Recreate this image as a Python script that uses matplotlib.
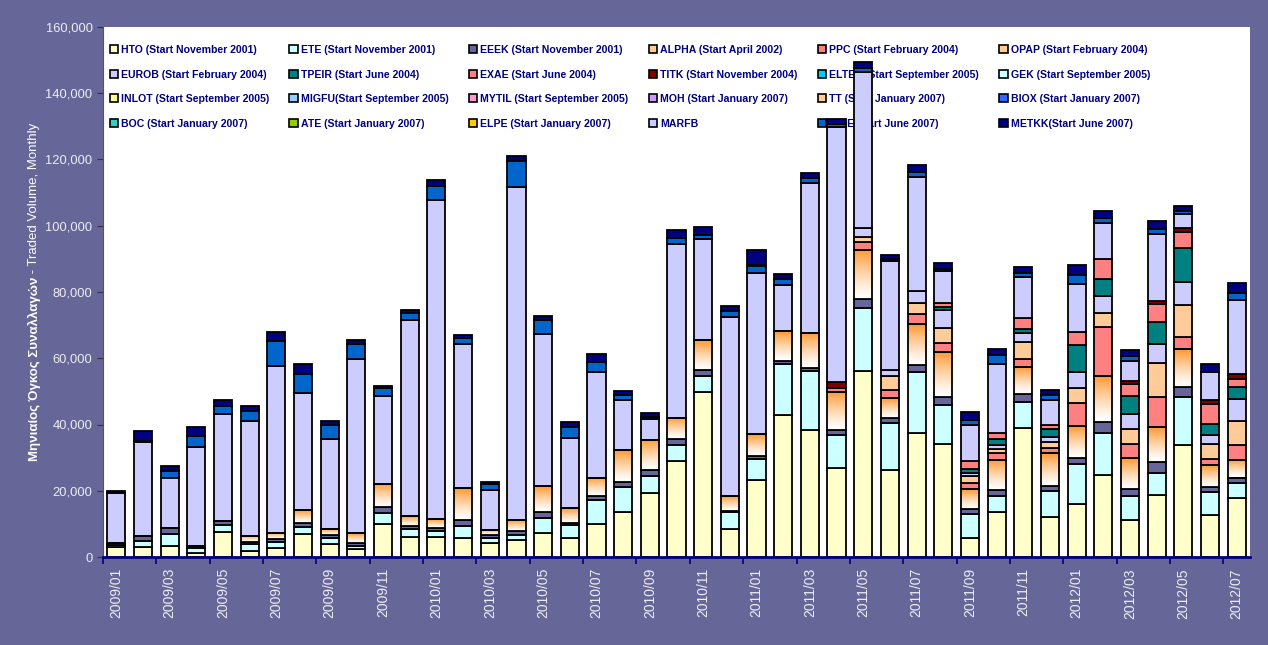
import matplotlib.pyplot as plt
import numpy as np
from matplotlib.patches import Patch
from matplotlib.colors import to_rgb
from matplotlib.ticker import FuncFormatter

# months 2009/01 .. 2012/07
months = [f"{y}/{m:02d}" for y in range(2009, 2013) for m in range(1, 13)][:43]

# monthly traded volume per product, in thousands
hto = [2.9, 3.1, 3.3, 1.3, 7.6, 1.9, 2.6, 6.8, 3.8, 2.3,
       9.9, 6.1, 6.1, 5.6, 4.3, 5.1, 7.1, 5.6, 9.9, 13.7,
       19.2, 29.1, 49.7, 8.4, 23.2, 42.9, 38.3, 27.0, 56.1, 26.3,
       37.3, 34.1, 5.8, 13.7, 38.8, 12.0, 15.9, 24.7, 11.2, 18.7,
       33.8, 12.7, 17.7]
ete = [0.7, 1.7, 3.5, 1.3, 2.2, 1.9, 1.8, 2.3, 1.8, 1.0,
       3.3, 2.5, 1.8, 3.7, 1.3, 1.5, 4.7, 4.0, 7.3, 7.3,
       5.2, 4.7, 5.0, 5.1, 6.5, 15.4, 17.8, 9.7, 19.1, 14.1,
       18.6, 11.8, 7.3, 4.7, 8.0, 7.9, 12.1, 12.8, 7.3, 6.8,
       14.6, 6.8, 4.7]
eeek = [0.5, 1.5, 2.1, 0.7, 1.0, 0.6, 0.9, 1.2, 1.0, 0.8,
        1.8, 0.8, 0.9, 1.8, 1.0, 1.3, 1.8, 0.7, 1.2, 1.7,
        1.8, 1.8, 1.9, 0.4, 0.7, 1.0, 1.0, 1.5, 2.6, 1.7,
        2.0, 2.5, 1.5, 1.8, 2.5, 1.5, 1.8, 3.3, 2.0, 3.2,
        3.0, 1.7, 1.6]
alpha = [0, 0, 0, 0, 0, 1.9, 2.0, 3.8, 1.8, 3.0,
         7.0, 2.9, 2.6, 9.6, 1.7, 3.2, 7.8, 4.5, 5.5, 9.6,
         9.1, 6.5, 8.9, 4.4, 6.6, 9.0, 10.6, 11.6, 14.8, 6.0,
         12.3, 13.6, 6.0, 9.1, 8.2, 9.9, 9.6, 13.9, 9.3, 10.4,
         11.3, 6.5, 5.2]
ppc = [0] * 27 + [1.2, 2.5, 2.3, 3.3, 2.7, 1.8, 2.0, 2.3, 1.5, 7.0,
                  14.8, 4.2, 9.3, 3.6, 2.0, 4.5]
opap = [0] * 28 + [1.5, 4.2, 3.2, 4.3, 2.2, 1.2, 5.0, 2.0, 4.7, 4.2,
                   4.5, 10.3, 9.8, 4.3, 7.5]
eurob = [0] * 28 + [2.8, 2.0, 3.6, 5.5, 0.7, 1.3, 2.7, 1.5, 4.8, 5.1,
                    4.6, 5.6, 7.0, 2.7, 6.5]
tpeir = [0] * 31 + [1.0, 1.3, 1.7, 1.3, 2.2, 8.0, 5.2, 5.5, 6.7, 10.1, 3.5, 3.5]
exae = [0] * 31 + [1.2, 2.5, 2.0, 3.3, 1.5, 4.0, 6.0, 3.7, 5.5, 5.0, 6.0, 2.5]
titk = [0] * 27 + [1.8] + [0] * 10 + [0.8, 0.8, 1.0, 1.2, 1.5]
empty = [0] * 43  # ELTEX, GEK, INLOT, MIGFU, MYTIL, MOH, TT, BIOX, BOC, ATE, ELPE
marfb = [15.1, 28.5, 15.1, 29.8, 32.5, 34.7, 50.4, 35.5, 27.2, 52.8,
         26.6, 59.2, 96.5, 43.5, 11.9, 100.6, 45.8, 21.1, 31.8, 15.1,
         6.5, 52.5, 30.4, 54.3, 48.7, 13.9, 45.3, 77.0, 47.1, 32.8,
         34.4, 9.6, 10.9, 20.7, 12.3, 7.3, 14.6, 10.8, 6.2, 20.3,
         4.3, 8.3, 22.3]
cide = [0, 0.3, 2.0, 3.4, 2.2, 3.1, 7.4, 5.5, 4.4, 4.3,
        2.3, 2.3, 4.0, 2.0, 1.8, 7.8, 4.2, 3.3, 3.2, 1.5,
        0.6, 1.7, 1.3, 1.8, 2.3, 1.7, 1.5, 0.8, 1.0, 0.6,
        1.5, 0.6, 1.5, 2.7, 1.2, 1.5, 2.5, 1.6, 1.5, 1.5,
        1.0, 0.3, 2.3]
metkk = [0.8, 3.0, 1.4, 2.8, 2.0, 1.4, 2.8, 3.2, 1.0, 1.2,
         0.8, 0.7, 1.8, 0.8, 0.7, 1.7, 1.5, 1.5, 2.3, 1.3,
         1.2, 2.3, 2.3, 1.5, 4.8, 1.5, 1.5, 1.5, 2.0, 1.3,
         2.2, 1.8, 2.2, 1.8, 2.0, 1.5, 3.0, 2.2, 1.8, 2.2,
         1.5, 2.3, 3.0]

labels = ["HTO (Start November 2001)", "ETE (Start November 2001)",
          "EEEK (Start November 2001)", "ALPHA (Start April 2002)",
          "PPC (Start February 2004)", "OPAP (Start February 2004)",
          "EUROB (Start February 2004)", "TPEIR (Start June 2004)",
          "EXAE (Start June 2004)", "TITK (Start November 2004)",
          "ELTEX (Start September 2005)", "GEK (Start September 2005)",
          "INLOT (Start September 2005)", "MIGFU(Start September 2005)",
          "MYTIL (Start September 2005)", "MOH (Start January 2007)",
          "TT (Start January 2007)", "BIOX (Start January 2007)",
          "BOC (Start January 2007)", "ATE (Start January 2007)",
          "ELPE (Start January 2007)", "MARFB",
          "CIDE(Start June 2007)", "METKK(Start June 2007)"]
series = [hto, ete, eeek, alpha, ppc, opap, eurob, tpeir, exae, titk,
          empty, empty, empty, empty, empty, empty, empty, empty, empty,
          empty, empty, marfb, cide, metkk]
colors = ["#FFFFCC", "#CCFFFF", "#666699", "#FFCC99", "#FF8080", "#FFCC99",
          "#CCCCFF", "#008080", "#FF8080", "#800000", "#00CCFF", "#CCFFFF",
          "#FFFF99", "#99CCFF", "#FF99CC", "#CC99FF", "#FFCC99", "#3366FF",
          "#33CCCC", "#99CC00", "#FFCC00", "#CCCCFF", "#0066CC", "#000080"]

plt.rcParams['font.family'] = ['Liberation Sans', 'DejaVu Sans']

fig = plt.figure(figsize=(12.68, 6.45), dpi=100, facecolor='#666699')
ax = fig.add_axes([103 / 1268, 88 / 645, 1147 / 1268, 530 / 645])
ax.set_facecolor('white')

x = np.arange(len(months))
width = 0.68
bottom = np.zeros(len(months))

# orange-to-white gradient used for ALPHA segments
t = np.linspace(0, 1, 64)[:, None, None]
orange = np.array(to_rgb("#FF9933"))
grad = (1 - t ** 1.3) * np.ones(3) + (t ** 1.3) * orange

handles = []
for lab, vals, col in zip(labels, series, colors):
    v = np.asarray(vals, dtype=float) * 1000
    if lab.startswith("ALPHA"):
        bars = ax.bar(x, v, width, bottom=bottom, facecolor='none',
                      edgecolor='black', linewidth=1.3, zorder=3)
        for b in bars:
            if b.get_height() <= 0:
                continue
            ax.imshow(grad, extent=(b.get_x(), b.get_x() + b.get_width(),
                                    b.get_y(), b.get_y() + b.get_height()),
                      aspect='auto', origin='lower', zorder=2,
                      interpolation='bilinear')
    else:
        ax.bar(x, v, width, bottom=bottom, color=col,
               edgecolor='black', linewidth=1.3, zorder=2)
    bottom += v
    handles.append(Patch(facecolor=col, edgecolor='black', linewidth=1.2, label=lab))

ax.set_xlim(-0.5, len(months) - 0.5)
ax.set_ylim(0, 160000)

ax.set_yticks(np.arange(0, 160001, 20000))
ax.yaxis.set_major_formatter(FuncFormatter(lambda v, p: f"{v:,.0f}"))
ax.tick_params(axis='y', labelcolor='#EEEEF4', labelsize=9.3, color='#333333', length=4)

ax.set_xticks(x[::2] - 0.5)
ax.set_xticklabels([])
ax.set_xticks(x[::2], minor=True)
ax.set_xticklabels(months[::2], minor=True, rotation=90)
ax.tick_params(axis='x', which='major', color='#000080', length=5, width=1.2)
ax.tick_params(axis='x', which='minor', length=0, labelcolor='#EEEEF4',
               labelsize=10, pad=8)

for s in ['top', 'right']:
    ax.spines[s].set_visible(False)
ax.spines['left'].set_color('#555555')
ax.spines['bottom'].set_color('#000080')
ax.spines['bottom'].set_linewidth(2)

# y-axis title: Greek part bold, English part normal
t1 = fig.text(0.027, 0.285, "Μηνιαίος Όγκος Συναλλαγών", rotation=90,
              ha='center', va='bottom', color='white', fontsize=9.5, fontweight='bold')
ax.annotate(" - Traded Volume, Monthly", xy=(0.5, 1), xycoords=t1,
            rotation=90, ha='center', va='bottom', color='white', fontsize=9.5)

# legend laid out row by row like the original; tall bars cover it
order = [r * 6 + c for c in range(6) for r in range(4)]
leg = ax.legend([handles[i] for i in order], [labels[i] for i in order],
                ncol=6, loc='upper left', bbox_to_anchor=(-0.0026, 0.984),
                frameon=False, prop=dict(weight='bold', size=7.6),
                labelcolor='#000080', handlelength=0.8, handleheight=0.8,
                handletextpad=0.3, columnspacing=1.9, labelspacing=1.38)
leg.set_zorder(1)

fig.savefig("out.png", dpi=100, facecolor=fig.get_facecolor())
